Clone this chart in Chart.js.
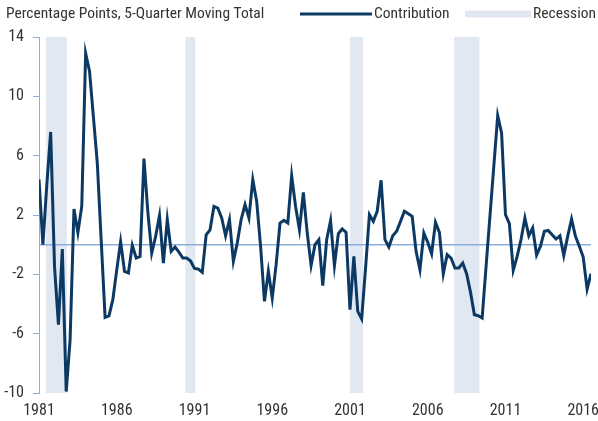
<!DOCTYPE html>
<html>
<head>
<meta charset="utf-8">
<script src="https://cdn.jsdelivr.net/npm/chart.js@4/dist/chart.umd.min.js"></script>
<style>
  html, body { margin: 0; padding: 0; background: #fff; }
  #wrap { width: 598px; height: 421px; position: relative; }
</style>
</head>
<body>
<div id="wrap"><canvas id="chart"></canvas></div>
<script>
// quarterly data, 1981 Q1 .. 2016 Q3
const startYear = 1981
const contribution = [
    4.4, 0.0, 4.0, 7.6, -1.5, -5.4, -0.3, -9.9, -6.4, 2.4, 0.8, 2.6,
    12.9, 11.7, 8.6, 5.5, 0.3, -4.9, -4.8, -3.7, -1.7, 0.2, -1.8, -1.9,
    -0.05, -0.9, -0.8, 5.8, 2.2, -0.56, 0.56, 1.96, -1.24, 1.69, -0.45, -0.16,
    -0.5, -0.9, -0.9, -1.1, -1.6, -1.65, -1.87, 0.67, 1.0, 2.58, 2.47, 1.8,
    0.6, 1.69, -1.12, 0.11, 1.69, 2.7, 1.8, 4.38, 2.92, -0.1, -3.82, -1.8,
    -3.6, -1.35, 1.46, 1.64, 1.46, 4.65, 2.58, 1.0, 3.53, 0.8, -1.4, 0.0,
    0.34, -2.76, 0.34, 1.62, -1.42, 0.74, 1.06, 0.83, -4.38, -0.79, -4.5, -5.0,
    -1.6, 2.02, 1.57, 2.25, 4.34, 0.34, -0.16, 0.6, 0.9, 1.57, 2.25, 2.09,
    1.91, -0.45, -1.69, 0.79, 0.16, -0.61, 1.5, 0.83, -1.96, -0.67, -0.9, -1.57,
    -1.57, -1.24, -1.96, -3.2, -4.72, -4.79, -4.94, -1.5, 1.9, 5.3, 8.7, 7.53,
    2.02, 1.42, -1.73, -0.79, 0.34, 1.8, 0.6, 1.12, -0.7, -0.11, 0.9, 0.96,
    0.67, 0.38, 0.6, -0.74, 0.56, 1.73, 0.56, -0.11, -0.83, -3.0, -1.96
]
const quarters = contribution.map((v, i) => startYear + i / 4)

// recession periods (decimal years)
const recessionStart = [1981.45, 1990.42, 2001.0, 2007.7]
const recessionEnd = [1982.79, 1991.06, 2001.84, 2009.33]

const xTicks = [1981, 1986, 1991, 1996, 2001, 2006, 2011, 2016]
const yTicks = [-10, -6, -2, 2, 6, 10, 14]

const titleText = "Percentage Points, 5-Quarter Moving Total"
const seriesLabel = "Contribution"
const recessionLabel = "Recession"

const FONT = '"Liberation Sans Narrow", "Roboto Condensed", "DejaVu Sans Condensed", "Liberation Sans", sans-serif'
const navy = "#0C3963"
const bandColor = "#E1E8F2"
const axisBlue = "#8EAEDA"
const textColor = "#333333"

// shaded recession bands behind the line
const recessionBands = {
    id: "recessionBands",
    beforeDatasetsDraw(chart) {
        const { ctx, chartArea, scales } = chart
        ctx.save()
        ctx.fillStyle = bandColor
        recessionStart.forEach((s, i) => {
            const x0 = scales.x.getPixelForValue(s)
            const x1 = scales.x.getPixelForValue(recessionEnd[i])
            ctx.fillRect(x0, chartArea.top, x1 - x0, chartArea.bottom - chartArea.top)
        })
        ctx.restore()
    }
}

// title on the left, legend on the right, same row
const header = {
    id: "header",
    afterDraw(chart) {
        const ctx = chart.ctx
        ctx.save()
        ctx.font = "15.5px " + FONT
        ctx.fillStyle = textColor
        ctx.textBaseline = "middle"
        ctx.fillText(titleText, 6, 14)

        ctx.strokeStyle = navy
        ctx.lineWidth = 3
        ctx.beginPath()
        ctx.moveTo(300, 14)
        ctx.lineTo(372, 14)
        ctx.stroke()
        ctx.fillText(seriesLabel, 374, 14)

        // recession text kept inside the right edge
        const recX = Math.min(537, 596 - ctx.measureText(recessionLabel).width)
        ctx.fillStyle = bandColor
        ctx.fillRect(465, 10.5, recX - 2 - 465, 7)
        ctx.fillStyle = textColor
        ctx.fillText(recessionLabel, recX, 14)
        ctx.restore()
    }
}

new Chart(document.getElementById("chart"), {
    type: "line",
    data: {
        datasets: [{
            label: seriesLabel,
            data: contribution.map((v, i) => ({ x: quarters[i], y: v })),
            borderColor: navy,
            borderWidth: 3,
            pointRadius: 0,
            tension: 0,
            fill: false
        }]
    },
    options: {
        responsive: true,
        maintainAspectRatio: false,
        animation: false,
        layout: { padding: { top: 37, right: 7, left: 0, bottom: 0 } },
        plugins: {
            legend: { display: false },
            tooltip: { enabled: false }
        },
        scales: {
            x: {
                type: "linear",
                min: startYear,
                max: quarters[quarters.length - 1],
                afterBuildTicks: s => { s.ticks = xTicks.map(v => ({ value: v })) },
                afterFit: s => {
                    s.height = 28
                    s.paddingLeft = 0
                    s.paddingRight = 0
                },
                grid: { display: false, drawTicks: false },
                border: { display: false },
                ticks: {
                    callback: v => String(v),
                    maxRotation: 0,
                    padding: 8,
                    color: textColor,
                    font: { size: 16, family: FONT }
                }
            },
            y: {
                min: -10,
                max: 14,
                afterBuildTicks: s => { s.ticks = yTicks.map(v => ({ value: v })) },
                afterFit: s => { s.width = 39 },
                grid: {
                    drawOnChartArea: false,
                    tickLength: 6,
                    tickColor: axisBlue
                },
                border: { display: true, color: axisBlue, width: 1 },
                ticks: {
                    padding: 9,
                    color: textColor,
                    font: { size: 16, family: FONT }
                }
            }
        }
    },
    plugins: [recessionBands, header, {
        // zero line across the plot
        id: "zeroLine",
        beforeDatasetsDraw(chart) {
            const { ctx, chartArea, scales } = chart
            const y0 = scales.y.getPixelForValue(0)
            ctx.save()
            ctx.strokeStyle = axisBlue
            ctx.lineWidth = 1.5
            ctx.beginPath()
            ctx.moveTo(chartArea.left, y0)
            ctx.lineTo(chartArea.right, y0)
            ctx.stroke()
            ctx.restore()
        }
    }]
})
</script>
</body>
</html>
